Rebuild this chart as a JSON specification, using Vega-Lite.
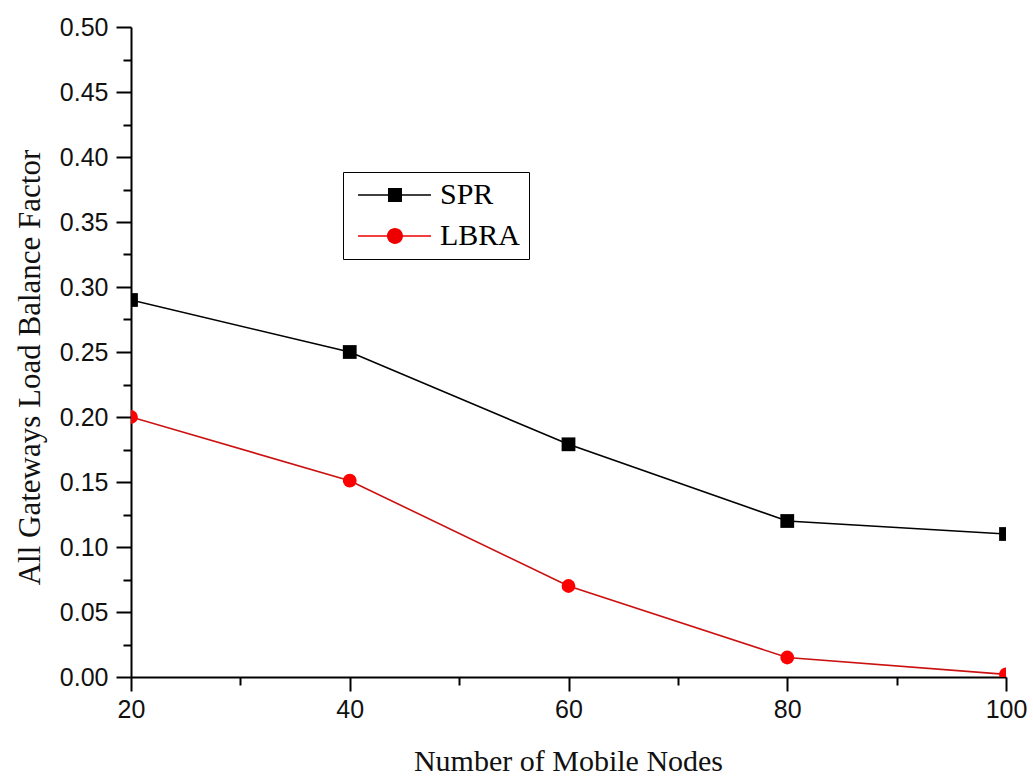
{
  "$schema": "https://vega.github.io/schema/vega-lite/v6.json",
  "width": 875,
  "height": 650,
  "autosize": {"type": "none"},
  "padding": {"left": 131, "top": 27, "right": 27, "bottom": 99},
  "background": "white",
  "config": {"view": {"stroke": null}},
  "data": {
    "values": [
      {"nodes": 20, "factor": 0.29, "series": "SPR"},
      {"nodes": 40, "factor": 0.25, "series": "SPR"},
      {"nodes": 60, "factor": 0.179, "series": "SPR"},
      {"nodes": 80, "factor": 0.12, "series": "SPR"},
      {"nodes": 100, "factor": 0.11, "series": "SPR"},
      {"nodes": 20, "factor": 0.2, "series": "LBRA"},
      {"nodes": 40, "factor": 0.151, "series": "LBRA"},
      {"nodes": 60, "factor": 0.07, "series": "LBRA"},
      {"nodes": 80, "factor": 0.015, "series": "LBRA"},
      {"nodes": 100, "factor": 0.002, "series": "LBRA"}
    ]
  },
  "layer": [
    {
      "mark": {"type": "line", "strokeWidth": 1.6, "clip": true},
      "encoding": {
        "x": {
          "field": "nodes",
          "type": "quantitative",
          "scale": {"domain": [20, 100], "nice": false, "zero": false},
          "axis": {
            "orient": "bottom",
            "title": "Number of Mobile Nodes",
            "values": [20, 40, 60, 80, 100],
            "format": "d",
            "grid": false,
            "domainColor": "black",
            "domainWidth": 2,
            "tickColor": "black",
            "tickWidth": 2,
            "tickSize": 14,
            "labelFont": "Liberation Sans",
            "labelFontSize": 25,
            "labelColor": "#111111",
            "labelPadding": 6,
            "labelFlush": false,
            "labelOverlap": false,
            "titleFont": "Liberation Serif",
            "titleFontSize": 30,
            "titleFontWeight": "normal",
            "titleColor": "#111111",
            "titleX": 437,
            "titleY": 84,
            "titleAlign": "center",
            "titleBaseline": "middle"
          }
        },
        "y": {
          "field": "factor",
          "type": "quantitative",
          "scale": {"domain": [0, 0.5], "nice": false},
          "axis": {
            "orient": "left",
            "title": "All Gateways Load Balance Factor",
            "values": [0, 0.05, 0.1, 0.15, 0.2, 0.25, 0.3, 0.35, 0.4, 0.45, 0.5],
            "format": ".2f",
            "grid": false,
            "domainColor": "black",
            "domainWidth": 2,
            "tickColor": "black",
            "tickWidth": 2,
            "tickSize": 15,
            "labelFont": "Liberation Sans",
            "labelFontSize": 25,
            "labelColor": "#111111",
            "labelPadding": 8,
            "labelFlush": false,
            "labelOverlap": false,
            "titleFont": "Liberation Serif",
            "titleFontSize": 31,
            "titleFontWeight": "normal",
            "titleColor": "#111111",
            "titleAngle": -90,
            "titleX": -101,
            "titleY": 340,
            "titleAlign": "center",
            "titleBaseline": "middle"
          }
        },
        "stroke": {
          "field": "series",
          "type": "nominal",
          "scale": {"domain": ["SPR", "LBRA"], "range": ["#000000", "#cc1010"]},
          "legend": null
        }
      }
    },
    {
      "mark": {"type": "point", "filled": true, "opacity": 1, "clip": true},
      "encoding": {
        "x": {"field": "nodes", "type": "quantitative", "axis": null},
        "y": {"field": "factor", "type": "quantitative", "axis": null},
        "shape": {
          "field": "series",
          "type": "nominal",
          "scale": {"domain": ["SPR", "LBRA"], "range": ["square", "circle"]},
          "legend": null
        },
        "fill": {
          "field": "series",
          "type": "nominal",
          "scale": {"domain": ["SPR", "LBRA"], "range": ["#000000", "#ff0000"]},
          "legend": null
        },
        "size": {"value": 190}
      }
    },
    {
      "mark": {"type": "point", "filled": true, "opacity": 0, "clip": true},
      "encoding": {
        "x": {
          "field": "nodes",
          "type": "quantitative",
          "axis": {
            "orient": "bottom",
            "title": null,
            "values": [30, 50, 70, 90],
            "labels": false,
            "domain": false,
            "grid": false,
            "tickColor": "black",
            "tickWidth": 2,
            "tickSize": 8
          }
        },
        "y": {
          "field": "factor",
          "type": "quantitative",
          "axis": {
            "orient": "left",
            "title": null,
            "values": [0.025, 0.075, 0.125, 0.175, 0.225, 0.275, 0.325, 0.375, 0.425, 0.475],
            "labels": false,
            "domain": false,
            "grid": false,
            "tickColor": "black",
            "tickWidth": 2,
            "tickSize": 8
          }
        },
        "shape": {
          "field": "series",
          "type": "nominal",
          "scale": {
            "domain": ["SPR", "LBRA"],
            "range": [
              "M-0.57,-0.054H4.64V0.054H-0.57Z M1.57,-0.5H2.57V0.5H1.57Z",
              "M-0.57,-0.054H4.64V0.054H-0.57Z M1.5,0A0.57,0.57 0 1,1 2.64,0A0.57,0.57 0 1,1 1.5,0Z"
            ]
          },
          "legend": {
            "title": null,
            "orient": "none",
            "legendX": 212,
            "legendY": 145,
            "strokeColor": "black",
            "padding": 8,
            "symbolSize": 784,
            "symbolOpacity": 1,
            "symbolStrokeWidth": 0,
            "labelFont": "Liberation Serif",
            "labelFontSize": 30,
            "labelColor": "black",
            "labelOffset": 59,
            "rowPadding": 11
          }
        },
        "fill": {
          "field": "series",
          "type": "nominal",
          "scale": {"domain": ["SPR", "LBRA"], "range": ["#000000", "#ee0000"]},
          "legend": {
            "title": null,
            "orient": "none",
            "legendX": 212,
            "legendY": 145,
            "strokeColor": "black",
            "padding": 8,
            "symbolSize": 784,
            "symbolOpacity": 1,
            "symbolStrokeWidth": 0,
            "labelFont": "Liberation Serif",
            "labelFontSize": 30,
            "labelColor": "black",
            "labelOffset": 59,
            "rowPadding": 11
          }
        },
        "size": {"value": 10}
      }
    }
  ],
  "resolve": {
    "scale": {"shape": "independent", "fill": "independent"},
    "axis": {"x": "independent", "y": "independent"}
  }
}
